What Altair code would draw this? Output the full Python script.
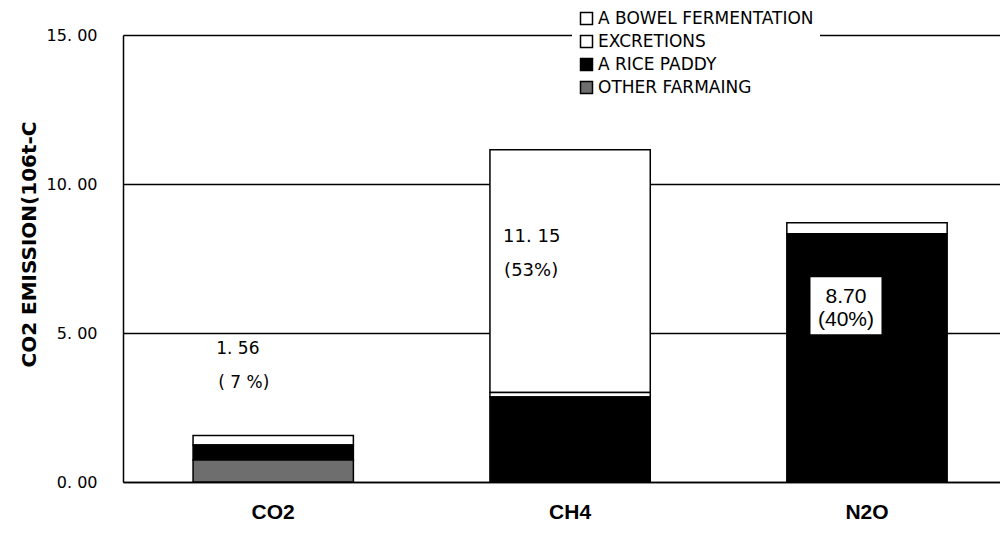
import altair as alt
import pandas as pd

# ---- data ----
gases = ["CO2", "CH4", "N2O"]
sources = ["A BOWEL FERMENTATION", "EXCRETIONS", "A RICE PADDY", "OTHER FARMAING"]
bowel_fermentation = [0.0, 8.15, 0.0]
excretions = [0.32, 0.15, 0.37]
rice_paddy = [0.50, 2.85, 8.33]
other_farming = [0.74, 0.0, 0.0]
totals = [1.56, 11.15, 8.70]
total_text = ["1. 56", "11. 15", "8.70"]
share_text = ["( 7 %)", "(53%)", "(40%)"]
source_colors = ["#ffffff", "#ffffff", "#000000", "#6e6e6e"]
stack_rank = [3, 2, 1, 0]
y_ticks = [0, 5, 10, 15]

series = [bowel_fermentation, excretions, rice_paddy, other_farming]
rows = []
for src, vals, rank in zip(sources, series, stack_rank):
    for g, v in zip(gases, vals):
        if v > 0:
            rows.append({"gas": g, "source": src, "value": v, "rank": rank})
bars_df = pd.DataFrame(rows)
labels_df = pd.DataFrame({"gas": gases, "total": totals,
                          "ttext": total_text, "stext": share_text})

x_enc = alt.X(
    "gas:N", sort=gases,
    scale=alt.Scale(paddingInner=0.46, paddingOuter=0.207, align=0.57),
    axis=alt.Axis(title=None, labelAngle=0, labelFont="Liberation Sans",
                  labelFontSize=21, labelFontWeight="bold", labelColor="black",
                  labelPadding=19, ticks=False, tickSize=0, grid=False,
                  domainColor="black", domainWidth=1.5),
)

y_axis = alt.Axis(
    values=y_ticks, title="CO2 EMISSION(106t-C",
    labelExpr="replace(format(datum.value, '.2f'), '.', '. ')",
    labelFont="DejaVu Sans", labelFontSize=16, labelColor="black",
    labelPadding=26, ticks=False, tickSize=0,
    grid=True, gridColor="black", gridWidth=1.5, gridOpacity=1,
    domainColor="black", domainWidth=1.5,
    titleFont="DejaVu Sans", titleFontSize=20, titleFontWeight="bold",
    titleColor="black", titleAngle=270, titleX=-94, titleY=209,
    titleBaseline="middle", titleAlign="center",
)
y_scale = alt.Scale(domain=[0, 15], nice=False)

bars = alt.Chart(bars_df).mark_bar(stroke="black", strokeWidth=1.5).encode(
    x=x_enc,
    y=alt.Y("value:Q", stack="zero", scale=y_scale, axis=y_axis),
    color=alt.Color(
        "source:N", sort=sources,
        scale=alt.Scale(domain=sources, range=source_colors),
        legend=alt.Legend(
            title=None, orient="none", legendX=449, legendY=-31,
            symbolType="square", symbolSize=144, symbolStrokeColor="black",
            symbolStrokeWidth=1.5, labelFont="DejaVu Sans", labelFontSize=17,
            labelColor="black", fillColor="white", padding=6, rowPadding=4,
            labelOffset=3, labelLimit=0,
        ),
    ),
    order=alt.Order("rank:Q", sort="ascending"),
)

y_lab = alt.Y("total:Q", scale=y_scale, axis=y_axis)

co2 = labels_df[labels_df.gas == "CO2"]
ch4 = labels_df[labels_df.gas == "CH4"]
n2o = labels_df[labels_df.gas == "N2O"]

co2_a = alt.Chart(co2).mark_text(align="left", baseline="middle", dx=-57, dy=-87,
                                 font="DejaVu Sans", fontSize=17, color="black").encode(
    x=x_enc, y=y_lab, text="ttext:N")
co2_b = alt.Chart(co2).mark_text(align="left", baseline="middle", dx=-55, dy=-53,
                                 font="DejaVu Sans", fontSize=17, color="black").encode(
    x=x_enc, y=y_lab, text="stext:N")

ch4_a = alt.Chart(ch4).mark_text(align="left", baseline="middle", dx=-67, dy=87,
                                 font="DejaVu Sans", fontSize=18, color="black").encode(
    x=x_enc, y=y_lab, text="ttext:N")
ch4_b = alt.Chart(ch4).mark_text(align="left", baseline="middle", dx=-66, dy=121,
                                 font="DejaVu Sans", fontSize=18, color="black").encode(
    x=x_enc, y=y_lab, text="stext:N")

n2o_box = alt.Chart(n2o).mark_point(
    shape="M-1,-0.8H1V0.8H-1Z", size=4761, filled=True, fill="white",
    stroke="white", opacity=1, xOffset=-21, yOffset=83).encode(x=x_enc, y=y_lab)
n2o_a = alt.Chart(n2o).mark_text(align="center", baseline="middle", dx=-21, dy=74,
                                 font="Liberation Sans", fontSize=21, color="black").encode(
    x=x_enc, y=y_lab, text="ttext:N")
n2o_b = alt.Chart(n2o).mark_text(align="center", baseline="middle", dx=-21, dy=97,
                                 font="Liberation Sans", fontSize=21, color="black").encode(
    x=x_enc, y=y_lab, text="stext:N")

chart = alt.layer(bars, co2_a, co2_b, ch4_a, ch4_b, n2o_box, n2o_a, n2o_b).properties(
    width=877, height=447,
    autosize=alt.AutoSizeParams(type="none"),
    padding={"left": 115, "top": 27, "right": 0, "bottom": 45},
).configure(background="white").configure_view(stroke=None)

chart.save("out.html", embed_options={"renderer": "svg", "actions": False})
